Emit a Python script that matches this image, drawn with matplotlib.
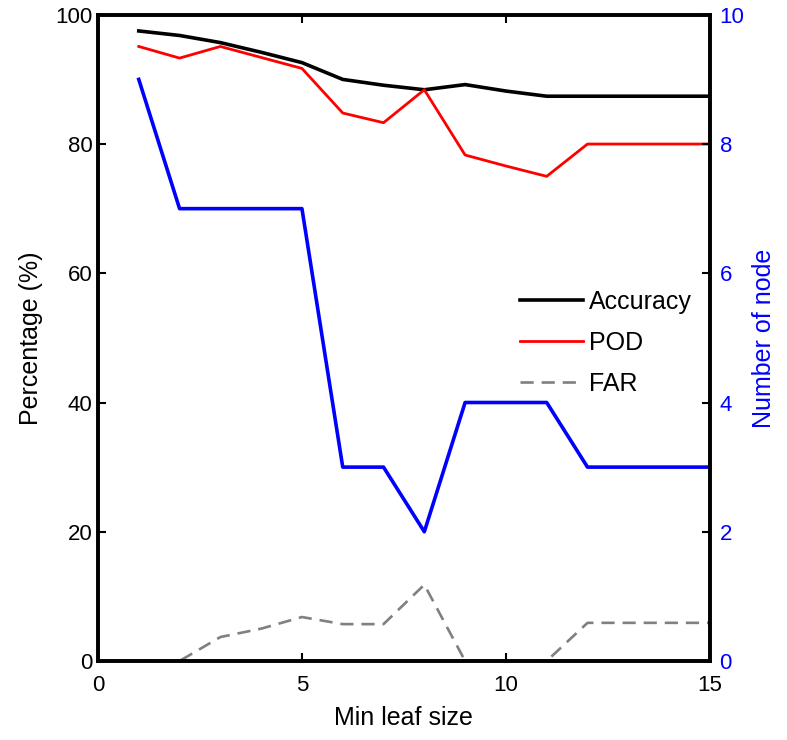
import matplotlib
matplotlib.use("Agg")
import matplotlib.pyplot as plt

plt.rcParams['font.family'] = ['Liberation Sans', 'DejaVu Sans']

leaf_size = [1, 2, 3, 4, 5, 6, 7, 8, 9, 10, 11, 12, 13, 14, 15]
accuracy = [97.5, 96.8, 95.7, 94.2, 92.6, 90.0, 89.1, 88.4, 89.2, 88.2, 87.4, 87.4, 87.4, 87.4, 87.4]
pod = [95.1, 93.3, 95.1, 93.4, 91.7, 84.8, 83.3, 88.4, 78.3, 76.6, 75.0, 80.0, 80.0, 80.0, 80.0]
far = [0.0, 0.0, 3.7, 5.0, 6.8, 5.7, 5.7, 11.8, 0.0, 0.0, 0.0, 5.9, 5.9, 5.9, 5.9]
nodes = [9, 7, 7, 7, 7, 3, 3, 2, 4, 4, 4, 3, 3, 3, 3]

x_ticks = [0, 5, 10, 15]
left_ticks = [0, 20, 40, 60, 80, 100]
right_ticks = [0, 2, 4, 6, 8, 10]

fig = plt.figure(figsize=(7.87, 7.40), dpi=100)
ax = fig.add_axes([0.1245, 0.1068, 0.7775, 0.8732])
ax2 = ax.twinx()

ax.plot(leaf_size, accuracy, color='black', lw=2.6, label='Accuracy', zorder=2)
ax.plot(leaf_size, pod, color='red', lw=2.0, label='POD', zorder=2)
ax.plot(leaf_size, far, color='#808080', lw=1.9, ls=(0, (5, 3)), label='FAR', zorder=1)
ax2.plot(leaf_size, nodes, color='blue', lw=2.6)

ax.set_xlim(0, 15)
ax.set_ylim(0, 100)
ax2.set_ylim(0, 10)
ax.set_xticks(x_ticks)
ax.set_yticks(left_ticks)
ax2.set_yticks(right_ticks)

ax.tick_params(axis='both', direction='in', length=6, width=1.5, labelsize=16,
               top=True, colors='black')
ax.tick_params(axis='x', pad=10)
ax.tick_params(axis='y', right=False, pad=4)
ax2.tick_params(axis='y', direction='in', length=6, width=1.5, labelsize=16,
                labelcolor='blue', color='black', pad=7)

for a in (ax, ax2):
    for s in a.spines.values():
        s.set_linewidth(2.6)
        s.set_color('black')

ax.set_xlabel('Min leaf size', fontsize=18)
ax.set_ylabel('Percentage (%)', fontsize=18)
ax2.set_ylabel('Number of node', fontsize=18, color='blue')
ax.xaxis.set_label_coords(0.5, -0.07)
ax.yaxis.set_label_coords(-0.09, 0.5)
ax2.yaxis.set_label_coords(1.069, 0.5)

leg = ax.legend(loc='upper left', bbox_to_anchor=(0.69, 0.574), frameon=False,
                fontsize=18, handlelength=2.5, labelspacing=0.68, handletextpad=0.25,
                borderpad=0, borderaxespad=0)

fig.savefig('out.png', dpi=100)
